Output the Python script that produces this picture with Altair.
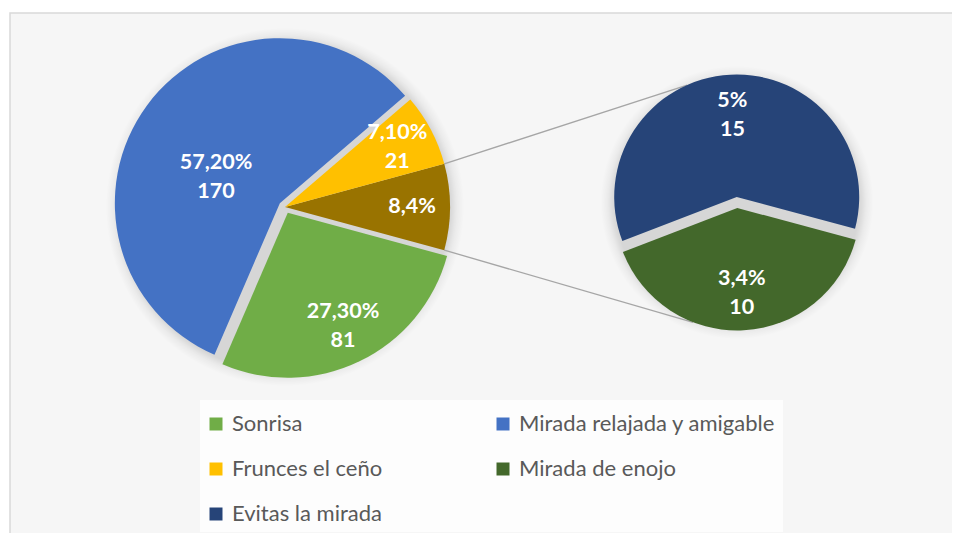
import math
import altair as alt
import pandas as pd

# ---------------- data ----------------
categories = ["Sonrisa", "Mirada relajada y amigable", "Frunces el ceño",
              "Mirada de enojo", "Evitas la mirada"]
counts = [81, 170, 21, 10, 15]
pct_labels = ["27,30%", "57,20%", "7,10%", "3,4%", "5%"]
colors = ["#70AD47", "#4472C4", "#FFC000", "#43682B", "#264478"]

# main pie (clockwise from the aggregated slice) and secondary pie
other_name = "Otros"
other_pct_label = "8,4%"
other_color = "#997300"
main_order = [other_name, "Sonrisa", "Mirada relajada y amigable", "Frunces el ceño"]
second_order = ["Mirada de enojo", "Evitas la mirada"]

# ---------------- tables ----------------
cnt = dict(zip(categories, counts))
pct = dict(zip(categories, pct_labels))
other_count = sum(cnt[c] for c in second_order)


def make_df(order):
    rows = []
    for i, c in enumerate(order):
        if c == other_name:
            rows.append({"cat": c, "count": other_count, "label": other_pct_label, "order": i})
        else:
            rows.append({"cat": c, "count": cnt[c], "label": pct[c] + "\n" + str(cnt[c]), "order": i})
    return pd.DataFrame(rows)


main_df = make_df(main_order)
second_df = make_df(second_order)

# ---------------- layout / style ----------------
W, H = 944, 525
MAIN_C = (277, 199)
MAIN_R = 165
SEC_C = (729, 194.5)
SEC_R = 122.5
SEC_MID_DEG = 177          # rotation of the secondary pie (centre of first slice)
LABEL_FONT = "Lato"
LABEL_SIZE = 21.5
LINE_H = 29

A0_MAIN = math.pi / 2 - math.pi * other_count / main_df["count"].sum()
A0_SEC = math.radians(SEC_MID_DEG) - math.pi * cnt[second_order[0]] / second_df["count"].sum()

color_scale = alt.Scale(domain=categories + [other_name], range=colors + [other_color])
legend = alt.Legend(
    orient="none", legendX=197, legendY=405, columns=2, direction="horizontal",
    title=None, symbolType="square", symbolSize=169, symbolStrokeWidth=0,
    labelFont=LABEL_FONT, labelFontSize=22, labelColor="#595959",
    labelOffset=5, rowPadding=23, columnPadding=109, labelLimit=400,
    padding=0, values=categories,
)


def mid_angles(df, a0):
    tot = df["count"].sum()
    cum = 0
    out = {}
    for c, v in zip(df["cat"], df["count"]):
        out[c] = a0 + 2 * math.pi * (cum + v / 2) / tot
        cum += v
    return out


def pie_layers(df, a0, center, r, explode, label_frac, label_shift):
    cx, cy = center
    mids = mid_angles(df, a0)
    nlines = dict(zip(df["cat"], df["label"].str.count("\n") + 1))
    tscale = alt.Scale(domain=[0, 1], range=[a0, a0 + 2 * math.pi])
    arcs, texts = [], []
    for c in df["cat"]:
        e = explode.get(c, 0)
        ox, oy = e * math.sin(mids[c]), -e * math.cos(mids[c])
        base = (
            alt.Chart(df)
            .transform_stack(stack="count", groupby=[], as_=["v0", "v1"],
                             sort=[alt.SortField("order", order="ascending")],
                             offset="normalize")
            .transform_calculate(mid="(datum.v0 + datum.v1) / 2")
            .transform_filter(alt.datum.cat == c)
        )
        arcs.append(
            base.mark_arc(radius=r, xOffset=ox, yOffset=oy).encode(
                theta=alt.Theta("v0:Q", scale=tscale, stack=False),
                theta2="v1:Q",
                color=alt.Color("cat:N", scale=color_scale, legend=legend),
                x=alt.value(cx), y=alt.value(cy),
            )
        )
        dx, dy = label_shift.get(c, (0, 0))
        dy -= (nlines[c] - 1) * LINE_H / 2   # centre multi-line block
        texts.append(
            base.mark_text(
                radius=r * label_frac.get(c, label_frac["default"]),
                xOffset=ox, yOffset=oy, dx=dx, dy=dy,
                font=LABEL_FONT, fontWeight="bold", fontSize=LABEL_SIZE, color="white",
                lineBreak="\n", lineHeight=LINE_H, align="center", baseline="middle",
            ).encode(
                theta=alt.Theta("mid:Q", scale=tscale, stack=False),
                text="label:N",
                x=alt.value(cx), y=alt.value(cy),
            )
        )
    return arcs, texts


def shadow(center, r, pad=14, alpha=0.13):
    k = r / (r + pad)
    grad = {
        "gradient": "radial", "x1": 0.5, "y1": 0.5, "r1": 0,
        "x2": 0.5, "y2": 0.5, "r2": 0.5,
        "stops": [
            {"offset": 0, "color": f"rgba(0,0,0,{alpha})"},
            {"offset": k, "color": f"rgba(0,0,0,{alpha})"},
            {"offset": (k + 1) / 2, "color": f"rgba(0,0,0,{alpha / 3:.3f})"},
            {"offset": 1, "color": "rgba(0,0,0,0)"},
        ],
    }
    return alt.Chart(pd.DataFrame({"k": [0]})).mark_arc(
        radius=r + pad, theta=0, theta2=2 * math.pi, fill=grad
    ).encode(x=alt.value(center[0]), y=alt.value(center[1]))


one = pd.DataFrame({"k": [0]})

frame = alt.Chart(one).mark_rect(fill="#f6f6f6", stroke="#d9d9d9", strokeWidth=1.5).encode(
    x=alt.value(2), y=alt.value(5), x2=alt.value(W + 20), y2=alt.value(H + 20))
legend_box = alt.Chart(one).mark_rect(fill="#fdfdfd").encode(
    x=alt.value(192), y=alt.value(392), x2=alt.value(775), y2=alt.value(524))

main_arcs, main_texts = pie_layers(
    main_df, A0_MAIN, MAIN_C, MAIN_R,
    explode={"Sonrisa": 6.4, "Mirada relajada y amigable": 6.4},
    label_frac={"default": 0.77, "Mirada relajada y amigable": 0.42},
    label_shift={"Mirada relajada y amigable": (-8, 15), "Sonrisa": (0, -1)},
)
sec_arcs, sec_texts = pie_layers(
    second_df, A0_SEC, SEC_C, SEC_R,
    explode={"Mirada de enojo": 5.5, "Evitas la mirada": 5.5},
    label_frac={"default": 0.70, "Evitas la mirada": 0.67},
    label_shift={},
)

# connector lines: edges of the aggregated slice -> secondary pie
other_frac = other_count / main_df["count"].sum()
p_angles = [A0_MAIN, A0_MAIN + 2 * math.pi * other_frac]
q_angles = [math.radians(336), math.radians(201)]
q_shift = [-5.5, 5.5]
connectors = []
for pa, qa, qs in zip(p_angles, q_angles, q_shift):
    x1 = MAIN_C[0] + MAIN_R * math.sin(pa)
    y1 = MAIN_C[1] - MAIN_R * math.cos(pa)
    x2 = SEC_C[0] + SEC_R * math.sin(qa)
    y2 = SEC_C[1] + qs - SEC_R * math.cos(qa)
    connectors.append(
        alt.Chart(one).mark_rule(color="#a6a6a6", strokeWidth=1.3).encode(
            x=alt.value(x1), y=alt.value(y1), x2=alt.value(x2), y2=alt.value(y2))
    )

chart = alt.layer(
    frame, legend_box,
    shadow(MAIN_C, MAIN_R), shadow(SEC_C, SEC_R),
    *connectors,
    *main_arcs, *sec_arcs, *main_texts, *sec_texts,
).resolve_scale(theta="independent").properties(
    width=W, height=H, padding=0,
    autosize=alt.AutoSizeParams(type="none"),
    background="white",
).configure_view(strokeWidth=0)

chart.save("out.html", embed_options={"renderer": "svg", "actions": False})
